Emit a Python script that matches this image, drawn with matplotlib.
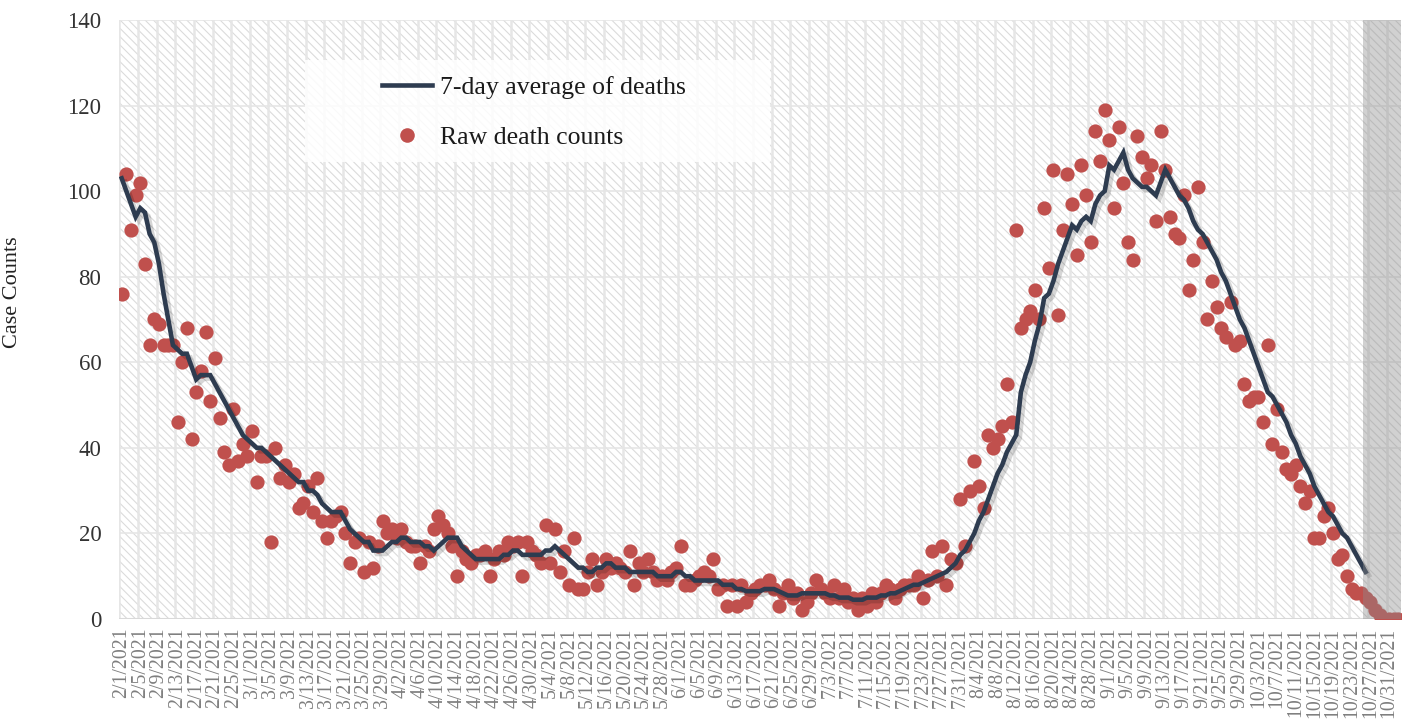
import matplotlib
matplotlib.use('Agg')
import matplotlib.pyplot as plt
import matplotlib.patheffects as pe
from matplotlib.patches import Rectangle
from matplotlib.lines import Line2D
import pandas as pd

# ---------------------------------------------------------------------------
# Data
# ---------------------------------------------------------------------------
dates = pd.date_range('2021-02-01', '2021-11-02', freq='D')
date_labels = [f'{d.month}/{d.day}/{d.year}' for d in dates]

raw_deaths = [
    # 2/1 - 3/25
    76, 104, 91, 99, 102, 83, 64, 70, 69, 64, 64, 64, 46, 60, 68, 42, 53, 58, 67, 51,
    61, 47, 39, 36, 49, 37, 41, 38, 44, 32, 38, 38, 18, 40, 33, 36, 32, 34, 26, 27,
    31, 25, 33, 23, 19, 23, 24, 25, 20, 13, 18, 19, 11,
    # 3/26 - 5/21
    18, 12, 17, 23, 20, 21, 19, 21, 18, 17, 17, 13, 17, 16, 21, 24, 22, 20, 17, 10,
    16, 14, 13, 15, 15, 16, 10, 14, 16, 15, 18, 17, 18, 10, 18, 16, 15, 13, 22, 13,
    21, 11, 16, 8, 19, 7, 7, 11, 14, 8, 11, 14, 12, 13, 12, 11, 16, 8,
    # 5/22 - 6/8
    13, 11, 14, 11, 9, 10, 9, 11, 12, 17, 8, 8, 9, 10, 11, 10, 14, 7,
    # 6/9 - 7/29
    8, 3, 8, 3, 8, 4, 6, 7, 8, 8, 9, 7, 3, 6, 8, 5, 6, 2, 4, 6,
    9, 7, 6, 5, 8, 5, 7, 4, 5, 2, 5, 3, 6, 4, 6, 8, 7, 5, 7, 8,
    8, 8, 10, 5, 9, 16, 10, 17, 8, 14, 13,
    # 7/30 - 11/2
    28, 17, 30, 37, 31, 26, 43, 40, 42, 45, 55, 46, 91, 68, 70, 72, 77, 70, 96, 82,
    105, 71, 91, 104, 97, 85, 106, 99, 88, 114, 107, 119, 112, 96, 115, 102, 88, 84, 113, 108,
    103, 106, 93, 114, 105, 94, 90, 89, 99, 77, 84, 101, 88, 70, 79, 73, 68, 66, 74, 64,
    65, 55, 51, 52, 52, 46, 64, 41, 49, 39, 35, 34, 36, 31, 27, 30, 19, 19, 24, 26,
    20, 14, 15, 10, 7, 6, 6, 5, 4, 2, 1, 0, 0, 0, 0,
]

avg_deaths = [
    # 2/1 - 3/28
    103, 100, 97, 94, 96, 95, 90, 88, 83, 76, 70, 64, 63, 62, 62, 59, 56, 57, 57, 57,
    55, 53, 51, 49, 47, 45, 43, 42, 41, 40, 40, 39, 38, 37, 36, 35, 34, 33, 32, 32,
    30, 30, 29, 27, 26, 25, 25, 25, 23, 21, 20, 19, 18, 18, 16, 16,
    # 3/29 - 5/22
    16, 17, 18, 18, 19, 19, 18, 18, 18, 17, 17, 16, 17, 18, 19, 19, 19, 17, 16, 15,
    14, 14, 14, 14, 14, 14, 15, 15, 16, 16, 15, 15, 15, 15, 15, 16, 16, 17, 16, 15,
    14, 13, 12, 12, 11, 11, 12, 12, 13, 13, 12, 12, 12, 11, 11,
    # 5/23 - 7/30
    11, 11, 11, 11, 10, 10, 10, 10, 11, 11, 10, 10, 9, 9, 9, 9, 9, 9, 8, 8,
    8, 7, 7, 6.5, 6.5, 6.5, 6.5, 7, 7, 7, 6.5, 6, 5.5, 5.5, 5.5, 6, 6, 6, 6, 6,
    6, 5.5, 5.5, 5, 5, 5, 4.5, 4.5, 4.5, 5, 5, 5, 5.5, 5.5, 6, 6, 6.5, 7, 7.5, 8,
    8, 8.5, 9, 9.5, 10, 10.5, 11, 12, 13, 15,
    # 7/31 - 10/26
    16, 18, 20, 23, 25, 28, 31, 34, 36, 39, 41, 43, 53, 57, 60, 65, 69, 75, 76, 79,
    83, 86, 89, 92, 91, 93, 94, 93, 97, 99, 100, 106, 105, 107, 109, 105, 103, 102, 101, 101,
    100, 99, 102, 105, 103, 101, 99, 98, 96, 93, 91, 90, 88, 86, 84, 81, 79, 76, 73, 70,
    68, 65, 62, 59, 56, 53, 52, 50, 48, 46, 43, 41, 38, 36, 34, 31, 29, 27, 25, 24,
    22, 20, 19, 17, 15, 13, 11,
]

shade_first = '10/26/2021'
y_ticks = [0, 20, 40, 60, 80, 100, 120, 140]

# ---------------------------------------------------------------------------
# Style
# ---------------------------------------------------------------------------
SERIF = 'Liberation Serif'
NAVY = '#2E3C50'
RED = '#C0504D'
GRID = '#E6E6E6'
HATCH = '#DADADA'

plt.rcParams['font.family'] = SERIF
plt.rcParams['hatch.linewidth'] = 0.75
plt.rcParams['hatch.color'] = HATCH

fig = plt.figure(figsize=(14.14, 7.19), dpi=100)
fig.patch.set_facecolor('white')
ax = fig.add_axes([0.0844, 0.1391, 0.9061, 0.8331])
ax.set_facecolor('white')

days = list(range(len(raw_deaths)))
avg_days = list(range(len(avg_deaths)))

# hatched plot area
ax.add_patch(Rectangle((0, 0), 1, 1, transform=ax.transAxes, facecolor='white',
                       edgecolor=HATCH, hatch='\\\\\\\\', linewidth=0, zorder=0))

ax.set_xlim(-0.5, len(days) - 0.5)
ax.set_ylim(0, 140)

# gridlines
for yv in y_ticks:
    ax.axhline(yv, color=GRID, lw=1.2, zorder=1)
for xv in range(0, len(days) + 1, 4):
    ax.axvline(xv - 0.5, color=GRID, lw=1.8, zorder=1)
ax.axhline(0, color='#D9D9D9', lw=1.5, zorder=1)

# raw dots
ax.scatter(days, raw_deaths, s=105, color=RED, linewidths=0, zorder=3)

# 7-day average with soft shadow
ax.plot(avg_days, avg_deaths, color=NAVY, lw=3.3, zorder=4, solid_joinstyle='miter',
        path_effects=[pe.SimpleLineShadow(offset=(2.5, -2.5), shadow_color='black', alpha=0.16),
                      pe.Normal()])

# shaded incomplete period
s0 = date_labels.index(shade_first)
ax.axvspan(s0 - 0.5, len(days) - 0.5, color='#8C8C8C', alpha=0.4, lw=0, zorder=5)

# axes styling
for sp in ax.spines.values():
    sp.set_visible(False)
ax.set_yticks(y_ticks)
ax.set_yticklabels([str(v) for v in y_ticks], fontsize=16.5, color='#333333')
ax.set_xticks(days[::4])
ax.set_xticklabels(date_labels[::4], rotation=90, fontsize=14.3, color='#7F7F7F')
ax.tick_params(axis='both', length=0)
ax.tick_params(axis='y', pad=13)
ax.tick_params(axis='x', pad=6)
ax.set_ylabel('Case Counts', fontsize=16, color='#222222')
ax.yaxis.set_label_coords(-0.076, 0.545)

# legend
ax.add_patch(Rectangle((0.145, 0.763), 0.363, 0.17, transform=ax.transAxes,
                       facecolor='white', alpha=0.85, linewidth=0, zorder=6))
handles = [Line2D([], [], color=NAVY, lw=3.3),
           Line2D([], [], color=RED, marker='o', ls='none', markersize=10.5, markeredgewidth=0)]
leg = ax.legend(handles, ['7-day average of deaths', 'Raw death counts'],
                loc='upper left', bbox_to_anchor=(0.205, 0.906), frameon=False,
                fontsize=18.5, handlelength=1.95, handletextpad=0.31,
                labelspacing=1.05, borderaxespad=0, borderpad=0)
leg.set_zorder(7)
for t in leg.get_texts():
    t.set_color('#1A1A1A')

plt.savefig('out.png', dpi=100, facecolor='white')
